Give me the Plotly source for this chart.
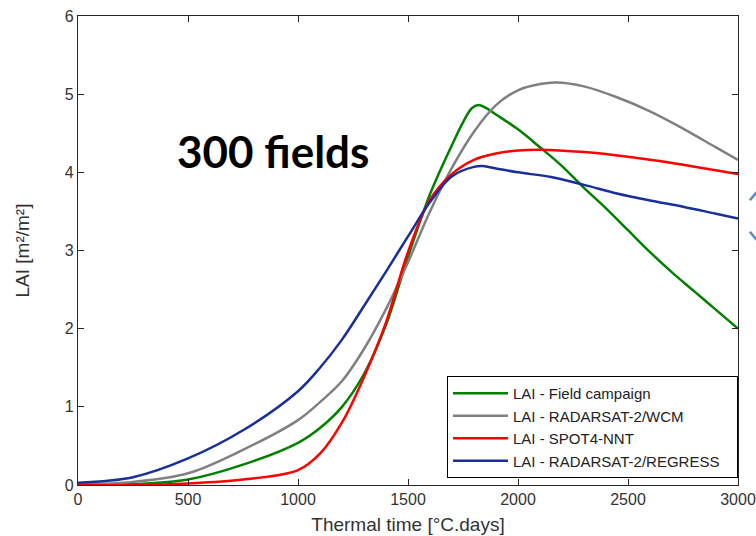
import plotly.graph_objects as go

# Thermal time (°C.days) sample points per series, LAI values
field_x = [0, 250, 500, 750, 1000, 1100, 1200, 1300, 1400, 1500, 1600, 1700, 1750, 1790, 1820, 1850, 1900,
           2000, 2100, 2200, 2300, 2400, 2500, 2600, 2700, 2800, 2900, 3000]
field_y = [0.0, 0.01, 0.07, 0.26, 0.54, 0.73, 1.0, 1.42, 2.05, 2.92, 3.72, 4.35, 4.64, 4.82, 4.86, 4.83, 4.74,
           4.55, 4.32, 4.08, 3.8, 3.54, 3.26, 2.98, 2.72, 2.48, 2.24, 2.0]

wcm_x = [0, 250, 500, 750, 1000, 1100, 1200, 1300, 1400, 1500, 1600, 1700, 1800, 1900, 2000, 2100, 2175,
         2300, 2450, 2600, 2750, 2900, 3000]
wcm_y = [0.01, 0.04, 0.15, 0.45, 0.83, 1.06, 1.33, 1.74, 2.25, 2.85, 3.5, 4.06, 4.52, 4.86, 5.05, 5.13, 5.15,
         5.1, 4.96, 4.78, 4.56, 4.32, 4.16]

nnt_x = [0, 250, 500, 750, 1000, 1100, 1200, 1300, 1400, 1500, 1600, 1700, 1800, 1900, 2000, 2100, 2300,
         2500, 2700, 2850, 3000]
nnt_y = [0.0, 0.0, 0.02, 0.07, 0.19, 0.4, 0.8, 1.38, 2.08, 2.98, 3.65, 3.98, 4.16, 4.24, 4.28, 4.29, 4.26,
         4.2, 4.12, 4.05, 3.98]

reg_x = [0, 250, 500, 750, 1000, 1100, 1200, 1300, 1400, 1500, 1600, 1700, 1800, 1840, 1900, 2000, 2150,
         2300, 2450, 2600, 2750, 2900, 3000]
reg_y = [0.03, 0.1, 0.34, 0.7, 1.2, 1.5, 1.86, 2.29, 2.73, 3.18, 3.62, 3.95, 4.07, 4.08, 4.05, 4.0, 3.94,
         3.84, 3.73, 3.64, 3.56, 3.47, 3.41]

series_names = ["LAI - Field campaign", "LAI - RADARSAT-2/WCM", "LAI - SPOT4-NNT", "LAI - RADARSAT-2/REGRESS"]
series_colors = ["#008000", "#808080", "#ff0000", "#1a2f99"]

x_ticks = [0, 500, 1000, 1500, 2000, 2500, 3000]
y_ticks = [0, 1, 2, 3, 4, 5, 6]

PAD = "\u00a0\u00a0\u00a0"  # right padding inside the legend box

fig = go.Figure()
for xs, ys, name, col in zip([field_x, wcm_x, nnt_x, reg_x], [field_y, wcm_y, nnt_y, reg_y],
                             series_names, series_colors):
    fig.add_trace(go.Scatter(x=xs, y=ys, mode="lines", name=name + PAD,
                             line=dict(color=col, width=2.5, shape="spline", smoothing=1.0)))

axis_common = dict(showline=True, linecolor="#262626", linewidth=1.3, mirror="ticks",
                   ticks="inside", ticklen=6, tickcolor="#262626", tickwidth=1,
                   showgrid=False, zeroline=False, automargin=False,
                   tickfont=dict(family="Liberation Sans, Arial", size=16, color="#333333"),
                   title_font=dict(family="Liberation Sans, Arial", size=19, color="#333333"))

fig.update_xaxes(range=[0, 3000], tickvals=x_ticks, title_text="Thermal time [°C.days]",
                 title_standoff=10, **axis_common)
fig.update_yaxes(range=[0, 6], tickvals=y_ticks, title_text="LAI [m²/m²]",
                 title_standoff=30, **axis_common)

fig.add_annotation(xref="paper", yref="paper", x=0.295, y=0.713, xanchor="center", yanchor="middle",
                   text="<b>300 fields</b>",
                   showarrow=False, font=dict(family="Lato, Open Sans", size=44, color="black"))

# partial arrow decoration at the right edge
fig.add_shape(type="line", xref="paper", yref="paper", x0=1.018, y0=0.607, x1=1.028, y1=0.624,
              line=dict(color="#5a8ac6", width=2.5))
fig.add_shape(type="line", xref="paper", yref="paper", x0=1.018, y0=0.54, x1=1.028, y1=0.523,
              line=dict(color="#5a8ac6", width=2.5))

fig.update_layout(
    width=756, height=536,
    margin=dict(l=78, r=18, t=16, b=51, autoexpand=False),
    paper_bgcolor="white", plot_bgcolor="white",
    showlegend=True,
    legend=dict(x=1, xanchor="right", y=0.015, yanchor="bottom",
                bgcolor="white", bordercolor="black", borderwidth=1,
                font=dict(family="Liberation Sans, Arial", size=15, color="#222222"),
                itemwidth=55, tracegroupgap=0),
)

fig.write_html("out.html")
